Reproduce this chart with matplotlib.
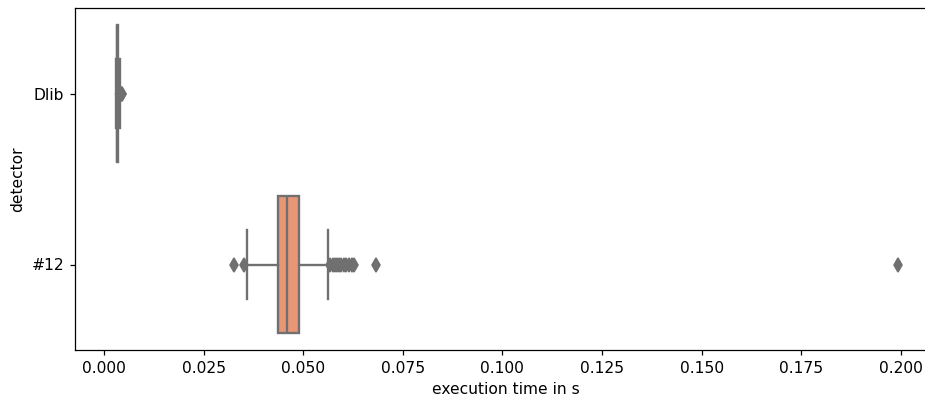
import matplotlib
matplotlib.use("Agg")
import matplotlib.pyplot as plt
import seaborn as sns

# box statistics (execution time in s)
detectors = ["Dlib", "#12"]
q1 = [0.0032, 0.0436]
median = [0.0033, 0.0459]
q3 = [0.0035, 0.0489]
whis_lo = [0.0029, 0.0358]
whis_hi = [0.0039, 0.0561]
fliers_dlib = [0.0040, 0.0041, 0.0042, 0.0043, 0.0044, 0.0045]
fliers_12 = [0.0326, 0.0351, 0.0568, 0.0574, 0.0580, 0.0585, 0.0590, 0.0596,
             0.0602, 0.0608, 0.0615, 0.0622, 0.0627, 0.0682, 0.1993]

stats = []
for i, name in enumerate(detectors):
  stats.append({
    'label': name,
    'q1': q1[i], 'med': median[i], 'q3': q3[i],
    'whislo': whis_lo[i], 'whishi': whis_hi[i],
    'fliers': [fliers_dlib, fliers_12][i],
  })

pal = [sns.desaturate(c, 0.75) for c in sns.color_palette("Set2", 2)]
gray = '#707070'

DPI = 112
fig = plt.figure(figsize=(925/DPI, 399/DPI), dpi=DPI)
ax = fig.add_axes([75/925, 1-350/399, 862/925, 342/399])

bp = ax.bxp(stats, positions=[0, 1], widths=0.8, vert=False, patch_artist=True,
            boxprops=dict(edgecolor=gray, linewidth=1.5),
            medianprops=dict(color=gray, linewidth=1.5),
            whiskerprops=dict(color=gray, linewidth=1.5),
            capprops=dict(color=gray, linewidth=1.5),
            flierprops=dict(marker='d', markerfacecolor=gray, markeredgecolor=gray,
                            markersize=6.5, linestyle='none'),
            capwidths=0.4)
for patch, c in zip(bp['boxes'], pal):
  patch.set_facecolor(c)

ax.set_ylim(1.5, -0.5)
ax.set_yticks([0, 1])
ax.set_yticklabels(detectors)
ax.set_xticks([0.0, 0.025, 0.05, 0.075, 0.1, 0.125, 0.15, 0.175, 0.2])
ax.set_xticklabels(['0.000', '0.025', '0.050', '0.075', '0.100', '0.125',
                    '0.150', '0.175', '0.200'])
ax.set_xlim(-0.0073, 0.2091)
ax.set_xlabel('execution time in s')
ax.set_ylabel('detector')

fig.savefig("out.png", dpi=DPI)
